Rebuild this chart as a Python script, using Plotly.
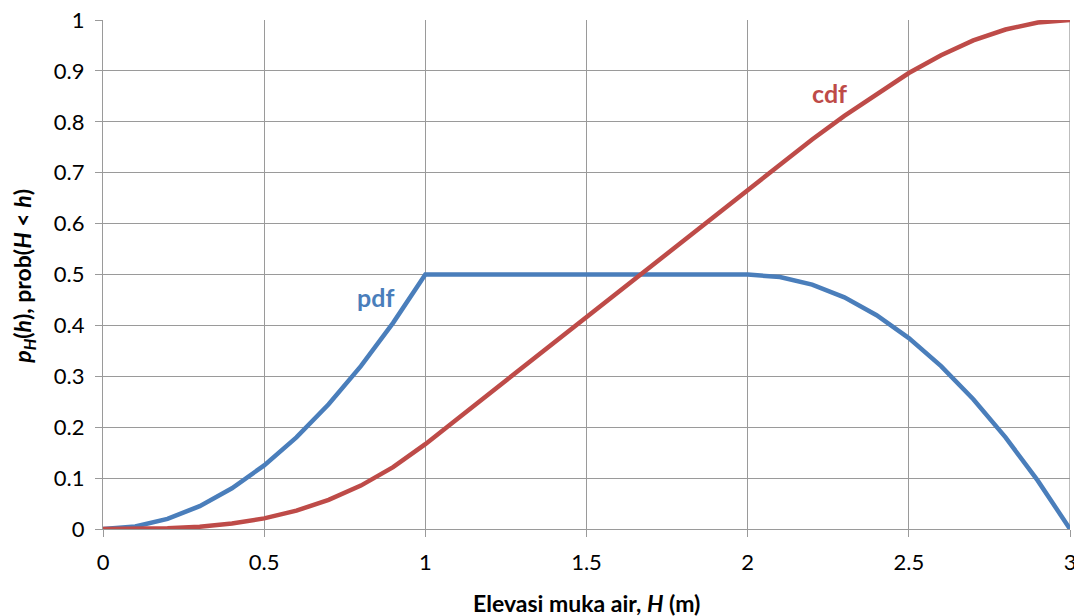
import plotly.graph_objects as go

h = [0.0, 0.1, 0.2, 0.3, 0.4, 0.5, 0.6, 0.7, 0.8, 0.9, 1.0,
     1.1, 1.2, 1.3, 1.4, 1.5, 1.6, 1.7, 1.8, 1.9, 2.0,
     2.1, 2.2, 2.3, 2.4, 2.5, 2.6, 2.7, 2.8, 2.9, 3.0]
pdf = [0.0, 0.005, 0.02, 0.045, 0.08, 0.125, 0.18, 0.245, 0.32, 0.405, 0.5,
       0.5, 0.5, 0.5, 0.5, 0.5, 0.5, 0.5, 0.5, 0.5, 0.5,
       0.495, 0.48, 0.455, 0.42, 0.375, 0.32, 0.255, 0.18, 0.095, 0.0]
cdf = [0.0, 0.0002, 0.0013, 0.0045, 0.0107, 0.0208, 0.036, 0.0572, 0.0853, 0.1215, 0.1667,
       0.2167, 0.2667, 0.3167, 0.3667, 0.4167, 0.4667, 0.5167, 0.5667, 0.6167, 0.6667,
       0.7165, 0.7653, 0.8117, 0.8547, 0.8958, 0.9307, 0.9598, 0.9813, 0.9952, 1.0]

x_ticks = [0, 0.5, 1, 1.5, 2, 2.5, 3]
x_labels = ["0", "0.5", "1", "1.5", "2", "2.5", "3"]
y_ticks = [0, 0.1, 0.2, 0.3, 0.4, 0.5, 0.6, 0.7, 0.8, 0.9, 1]
y_labels = ["0", "0.1", "0.2", "0.3", "0.4", "0.5", "0.6", "0.7", "0.8", "0.9", "1"]

x_title = "<b>Elevasi muka air, <i>H</i> (m)</b>"
y_title = "<b><i>p</i><sub><i>H</i></sub>(<i>h</i>), prob(<i>H</i> &lt; <i>h</i>)</b>"

BLUE = "#4A7EBB"
RED = "#BE4B48"
FONT = "Lato"
GRID = "#9a9a9a"

fig = go.Figure()
fig.add_trace(go.Scatter(x=h, y=pdf, mode="lines", line=dict(color=BLUE, width=4.5), name="pdf"))
fig.add_trace(go.Scatter(x=h, y=cdf, mode="lines", line=dict(color=RED, width=4.5), name="cdf"))

fig.add_annotation(x=0.845, y=0.455, text="<b>pdf</b>", showarrow=False,
                   font=dict(family=FONT, size=25, color=BLUE))
fig.add_annotation(x=2.255, y=0.857, text="<b>cdf</b>", showarrow=False,
                   font=dict(family=FONT, size=25, color=RED))

fig.add_annotation(xref="paper", yref="paper", x=0.5, y=-0.145, text=x_title,
                   showarrow=False, font=dict(family=FONT, size=23, color="#000"),
                   xanchor="center", yanchor="middle")
fig.add_annotation(xref="paper", yref="paper", x=-0.083, y=0.497, text=y_title,
                   showarrow=False, textangle=-90, font=dict(family=FONT, size=23, color="#000"),
                   xanchor="center", yanchor="middle")

axis_common = dict(showgrid=True, gridcolor=GRID, gridwidth=1.3,
                   showline=True, linecolor=GRID, linewidth=1.3,
                   ticks="outside", tickcolor=GRID, ticklen=7, tickwidth=1.3,
                   zeroline=False, tickfont=dict(family=FONT, size=22, color="#000"),
                   ticklabeloverflow="allow", automargin=False)

fig.update_layout(
    width=1074, height=608,
    margin=dict(l=95, r=12, t=12, b=87),
    paper_bgcolor="white", plot_bgcolor="white",
    showlegend=False,
    font=dict(family=FONT, color="#000"),
    xaxis=dict(range=[0, 3], tickvals=x_ticks, ticktext=x_labels,
               ticklabelstandoff=6, **axis_common),
    yaxis=dict(range=[0, 1], tickvals=y_ticks, ticktext=y_labels,
               ticklabelstandoff=6, **axis_common),
)
fig.add_shape(type="line", xref="x", yref="paper", x0=3, x1=3, y0=0, y1=1,
              line=dict(color=GRID, width=1.3), layer="below")

fig.write_html("out.html")
